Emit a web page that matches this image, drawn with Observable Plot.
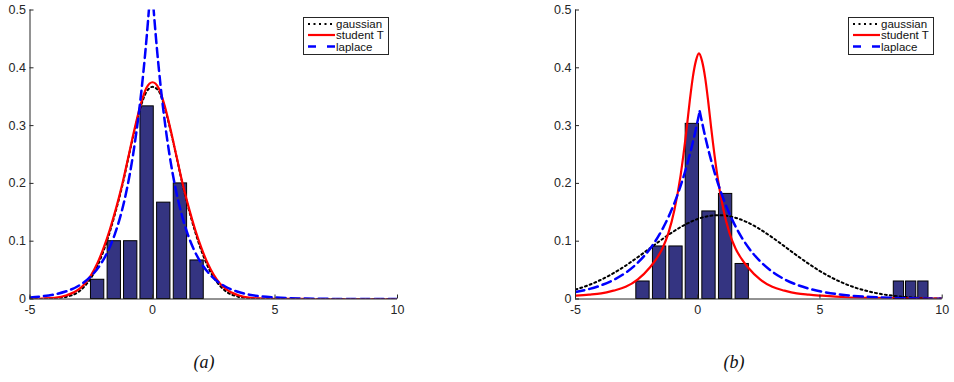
<!DOCTYPE html>
<html>
<head>
<meta charset="utf-8">
<script src="https://cdn.jsdelivr.net/npm/d3@7"></script>
<script src="https://cdn.jsdelivr.net/npm/@observablehq/plot@0.6"></script>
<style>
  html, body { margin: 0; padding: 0; background: #fff; }
  #wrap { position: relative; width: 954px; height: 382px; overflow: hidden; background: #fff; }
  .panel { position: absolute; top: 0; }
  .cap { position: absolute; top: 350px; width: 100px; text-align: center;
         font-family: "Liberation Serif", "Times New Roman", serif; font-style: italic;
         font-size: 18px; line-height: 24px; color: #111; }
</style>
</head>
<body>
<div id="wrap"></div>
<script>
// ---------- ticks & labels ----------
const xTicks = [-5, 0, 5, 10];
const yTicks = [0, 0.1, 0.2, 0.3, 0.4, 0.5];
const legendLabels = ["gaussian", "student T", "laplace"];
const panelLabels = ["(a)", "(b)"];

// ---------- histograms ----------
const binCenters = [-2.24, -1.56, -0.89, -0.22, 0.46, 1.14, 1.82];
const histA = [0.0333, 0.1, 0.1, 0.3333, 0.1667, 0.2, 0.0667];
const histB = [0.0303, 0.0909, 0.0909, 0.303, 0.1515, 0.1818, 0.0606];
const outlierCenters = [8.23, 8.73, 9.23];
const outlierHist = [0.0303, 0.0303, 0.0303];

// ---------- panel (a) curves ----------
const gaussA_x = [-5,-4.5,-4,-3.5,-3,-2.75,-2.5,-2.25,-2,-1.75,-1.5,-1.25,-1,-0.75,-0.5,-0.25,0,0.25,0.5,0.75,1,1.25,1.5,1.75,2,2.25,2.5,2.75,3,3.5,4,4.5,5,6,7,8,9,10];
const gaussA_y = [0,0.0002,0.001,0.004,0.013,0.023,0.037,0.057,0.083,0.115,0.152,0.193,0.241,0.288,0.330,0.358,0.367,0.360,0.331,0.289,0.242,0.194,0.152,0.115,0.083,0.057,0.037,0.023,0.013,0.004,0.001,0.0002,0,0,0,0,0,0];
const studentA_x = gaussA_x;
const studentA_y = [0.0003,0.0008,0.002,0.0065,0.017,0.027,0.042,0.062,0.088,0.119,0.155,0.196,0.243,0.291,0.334,0.365,0.375,0.365,0.334,0.291,0.243,0.196,0.155,0.119,0.088,0.062,0.042,0.027,0.017,0.0065,0.002,0.0008,0.0003,0.0001,0,0,0,0];
const laplaceA_x = [-5,-4.55,-4.05,-3.55,-3.05,-2.55,-2.05,-1.8,-1.55,-1.3,-1.05,-0.8,-0.55,-0.425,-0.3,-0.175,-0.05,0.075,0.2,0.325,0.45,0.7,0.95,1.2,1.45,1.7,1.95,2.45,2.95,3.45,3.95,4.45,4.95,5.95,6.95,7.95,10];
const laplaceA_y = [0.0027,0.0044,0.0075,0.0129,0.022,0.0377,0.0646,0.0845,0.1106,0.1447,0.1893,0.2478,0.3242,0.3708,0.4242,0.4852,0.555,0.4852,0.4242,0.3708,0.3242,0.2478,0.1893,0.1447,0.1106,0.0845,0.0646,0.0377,0.022,0.0129,0.0075,0.0044,0.0027,0.0009,0.0003,0.0001,0];

// ---------- panel (b) curves ----------
const gaussB_x = [-5,-4.5,-4,-3.5,-3,-2.5,-2,-1.5,-1,-0.5,0,0.5,0.85,1,1.5,2,2.5,3,3.5,4,4.5,5,5.5,6,6.5,7,7.5,8,8.5,9,9.5,10];
const gaussB_y = [0.0164,0.0234,0.0324,0.0434,0.0563,0.0709,0.0864,0.102,0.1166,0.1291,0.1385,0.1439,0.145,0.1448,0.1411,0.1333,0.1219,0.108,0.0927,0.077,0.062,0.0483,0.0365,0.0267,0.0189,0.013,0.0086,0.0056,0.0035,0.0021,0.0012,0.0007];
const studentB_x = [-5,-4.45,-3.95,-3.45,-2.95,-2.45,-1.95,-1.7,-1.45,-1.2,-0.95,-0.7,-0.45,-0.325,-0.2,-0.075,0.05,0.175,0.3,0.425,0.55,0.8,1.05,1.3,1.55,1.8,2.05,2.55,3.05,3.55,4.05,4.55,5.05,6.05,7.05,8.05,9.05,10];
const studentB_y = [0.0058,0.0075,0.0097,0.0145,0.021,0.034,0.055,0.069,0.087,0.114,0.155,0.214,0.296,0.343,0.384,0.412,0.425,0.412,0.384,0.343,0.296,0.214,0.155,0.114,0.087,0.069,0.055,0.034,0.021,0.0145,0.0097,0.0075,0.0058,0.003,0.0019,0.0013,0.0009,0.0007];
const laplaceB_x = [-5,-4.42,-3.92,-3.42,-2.92,-2.42,-1.92,-1.42,-0.92,-0.67,-0.42,-0.17,0.08,0.33,0.58,0.83,1.08,1.58,2.08,2.58,3.08,3.58,4.08,4.58,5.08,6.08,7.08,8.08,9.08,10];
const laplaceB_y = [0.012,0.0175,0.0242,0.0335,0.0463,0.0641,0.0887,0.1227,0.1698,0.1997,0.2349,0.2763,0.325,0.2763,0.2349,0.1997,0.1698,0.1227,0.0887,0.0641,0.0463,0.0335,0.0242,0.0175,0.0126,0.0066,0.0034,0.0018,0.0009,0.0005];

// ---------- styles ----------
const AXIS = "#262626";
const BAR_FILL = "#343481";
const BAR_W = 0.544, OUT_W = 0.42;
const FONT = '"Liberation Sans", Arial, Helvetica, sans-serif';
const lineStyles = [
  {stroke: "#000000", strokeWidth: 2, dash: "2,3", legendDash: "2,3.5"},
  {stroke: "#ff0000", strokeWidth: 2.2, dash: null, legendDash: null},
  {stroke: "#0000ff", strokeWidth: 2.5, dash: "9,5", legendDash: "8,11"}
];

const zip = (xs, ys) => xs.map((x, i) => ({x, y: ys[i]}));
function branches(xs, ys) {
  const im = d3.maxIndex(ys);
  const out = [];
  xs.forEach((x, i) => {
    if (i <= im) out.push({x, y: ys[i], side: "L"});
    if (i >= im) out.push({x, y: ys[i], side: "R"});
  });
  return out;
}
const barsOf = (cs, hs, w) => cs.map((c, i) => ({c, h: hs[i], w}));

function panel(cfg) {
  const W = 477, H = 320, mt = 9.5, mb = 21.5;
  const fw = W - cfg.ml - cfg.mr, fh = H - mt - mb;
  return Plot.plot({
    width: W, height: H,
    marginLeft: cfg.ml, marginRight: cfg.mr, marginTop: mt, marginBottom: mb,
    x: {domain: [-5, 10], label: null},
    y: {domain: [0, 0.5], label: null},
    style: {fontFamily: FONT, fontSize: "12.5px", color: AXIS, background: "transparent", overflow: "visible"},
    marks: [
      Plot.rect(cfg.bars, {x1: d => d.c - d.w / 2, x2: d => d.c + d.w / 2, y1: d => 0, y2: "h",
        fill: BAR_FILL, stroke: "#000", strokeWidth: 1}),
      Plot.line(cfg.gauss, {x: "x", y: "y", stroke: lineStyles[0].stroke, strokeWidth: lineStyles[0].strokeWidth,
        strokeDasharray: lineStyles[0].dash, curve: "monotone-x", clip: true}),
      Plot.line(cfg.student, {x: "x", y: "y", stroke: lineStyles[1].stroke, strokeWidth: lineStyles[1].strokeWidth,
        curve: "monotone-x", clip: true}),
      Plot.line(cfg.laplace, {x: "x", y: "y", z: "side", stroke: lineStyles[2].stroke, strokeWidth: lineStyles[2].strokeWidth,
        strokeDasharray: lineStyles[2].dash, curve: "monotone-x", clip: true}),
      Plot.ruleX([-5], {stroke: AXIS, strokeWidth: 1}),
      Plot.ruleY([0], {stroke: AXIS, strokeWidth: 1}),
      Plot.tickX(xTicks, {x: d => d, stroke: AXIS, insetTop: fh - 4}),
      Plot.tickY(yTicks, {y: d => d, stroke: AXIS, insetRight: fw - 4}),
      Plot.axisX({ticks: xTicks, tickSize: 0, tickPadding: 6, tickFormat: d => String(d), fill: AXIS}),
      Plot.axisY({ticks: yTicks, tickSize: 0, tickPadding: 4, tickFormat: d => d === 0 ? "0" : d.toFixed(1), fill: AXIS})
    ]
  });
}

function legend(left) {
  const svg = d3.create("svg").attr("width", 87).attr("height", 39)
    .style("position", "absolute").style("left", left + "px").style("top", "17px");
  svg.append("rect").attr("x", 0.5).attr("y", 0.5).attr("width", 85).attr("height", 37)
    .attr("fill", "#fff").attr("stroke", AXIS).attr("stroke-width", 1);
  const rows = [7, 18, 29.5];
  legendLabels.forEach((lab, i) => {
    const s = lineStyles[i];
    svg.append("line").attr("x1", 5).attr("x2", 32).attr("y1", rows[i]).attr("y2", rows[i])
      .attr("stroke", s.stroke).attr("stroke-width", s.strokeWidth)
      .attr("stroke-dasharray", s.legendDash);
    svg.append("text").attr("x", 33).attr("y", rows[i] + 4)
      .attr("font-family", FONT).attr("font-size", 11.5).attr("fill", "#111").text(lab);
  });
  return svg.node();
}

const wrap = document.getElementById("wrap");

const pA = panel({
  ml: 29.5, mr: 80,
  bars: barsOf(binCenters, histA, BAR_W),
  gauss: zip(gaussA_x, gaussA_y),
  student: zip(studentA_x, studentA_y),
  laplace: branches(laplaceA_x, laplaceA_y)
});
pA.classList.add("panel"); pA.style.left = "0px";
wrap.appendChild(pA);

const pB = panel({
  ml: 98, mr: 12.3,
  bars: barsOf(binCenters, histB, BAR_W).concat(barsOf(outlierCenters, outlierHist, OUT_W)),
  gauss: zip(gaussB_x, gaussB_y),
  student: zip(studentB_x, studentB_y),
  laplace: branches(laplaceB_x, laplaceB_y)
});
pB.classList.add("panel"); pB.style.left = "477px";
wrap.appendChild(pB);

wrap.appendChild(legend(303));
wrap.appendChild(legend(848));

[[panelLabels[0], 204], [panelLabels[1], 734]].forEach(([t, cx]) => {
  const d = document.createElement("div");
  d.className = "cap";
  d.style.left = (cx - 50) + "px";
  d.textContent = t;
  wrap.appendChild(d);
});
</script>
</body>
</html>
